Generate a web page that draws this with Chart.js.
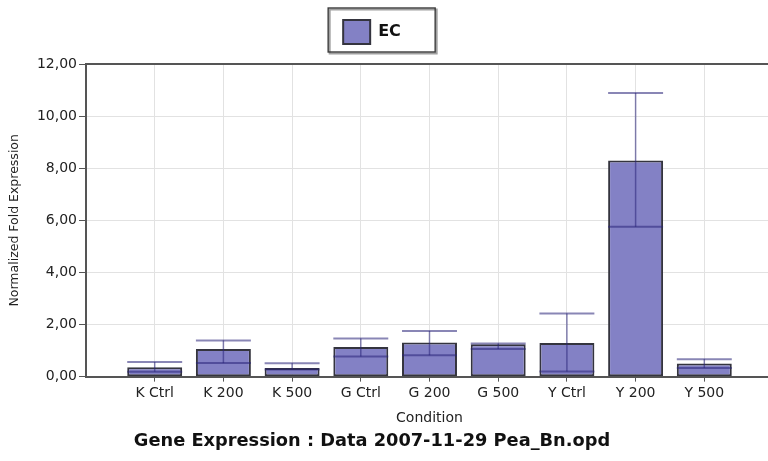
<!DOCTYPE html>
<html>
<head>
<meta charset="utf-8">
<script src="https://cdn.jsdelivr.net/npm/chart.js@4/dist/chart.umd.min.js"></script>
<style>
    html, body { margin: 0; padding: 0; background: #fff; overflow: hidden; }
    #wrap { width: 768px; height: 461px; overflow: hidden; position: relative; }
    #grafico { position: absolute; left: -32px; top: 0; }
</style>
</head>
<body>
<div id="wrap"><canvas id="grafico" width="808" height="461"></canvas></div>
<script>
// Condições e valores
const condicoes = ['K Ctrl', 'K 200', 'K 500', 'G Ctrl', 'G 200', 'G 500', 'Y Ctrl', 'Y 200', 'Y 500'];
const valores = [0.36, 1.06, 0.33, 1.14, 1.31, 1.24, 1.29, 8.30, 0.50];
const erroInferior = [0.19, 0.52, 0.27, 0.77, 0.82, 1.06, 0.20, 5.75, 0.33];
const erroSuperior = [0.56, 1.39, 0.51, 1.46, 1.75, 1.27, 2.42, 10.89, 0.67];
const ticksY = [0, 2, 4, 6, 8, 10, 12];

// Rótulos vazios nas pontas para reproduzir o espaço antes do primeiro grupo
const rotulos = ['', ...condicoes, ''];
const dados = [null, ...valores, null];

const fonte = "'DejaVu Sans', sans-serif";

// Barras de erro desenhadas com a escala y do próprio Chart.js
const pluginErros = {
    id: 'barrasErro',
    afterDatasetsDraw(chart) {
        const ctx = chart.ctx;
        const y = chart.scales.y;
        const meta = chart.getDatasetMeta(0);
        ctx.save();
        ctx.strokeStyle = 'rgba(40, 35, 120, 0.55)';
        meta.data.forEach((barra, i) => {
            const k = i - 1;
            if (k < 0 || k >= valores.length) return;
            const meia = barra.width / 2;
            const yBaixo = y.getPixelForValue(erroInferior[k]);
            const yAlto = y.getPixelForValue(erroSuperior[k]);
            ctx.lineWidth = 1.5;
            ctx.beginPath();
            ctx.moveTo(barra.x, yBaixo);
            ctx.lineTo(barra.x, yAlto);
            ctx.stroke();
            ctx.lineWidth = 2;
            ctx.beginPath();
            ctx.moveTo(barra.x - meia, yBaixo);
            ctx.lineTo(barra.x + meia, yBaixo);
            ctx.moveTo(barra.x - meia, yAlto);
            ctx.lineTo(barra.x + meia, yAlto);
            ctx.stroke();
        });
        ctx.restore();
    }
};

// Moldura com sombra em volta da legenda
const pluginMoldura = {
    id: 'molduraLegenda',
    afterDraw(chart) {
        const ctx = chart.ctx;
        const hb = chart.legend.legendHitBoxes[0];
        if (!hb) return;
        const x = hb.left - 15, yTopo = hb.top - 12, w = 107, h = 44;
        ctx.save();
        ctx.strokeStyle = '#a0a0a0';
        ctx.lineWidth = 2;
        ctx.strokeRect(x + 1.5, yTopo + 1.5, w, h);
        ctx.strokeStyle = '#3a3a3a';
        ctx.lineWidth = 1.4;
        ctx.strokeRect(x, yTopo, w, h);
        ctx.restore();
    }
};

new Chart(document.getElementById('grafico'), {
    type: 'bar',
    data: {
        labels: rotulos,
        datasets: [{
            label: 'EC',
            data: dados,
            backgroundColor: '#8381c5',
            borderColor: '#34343e',
            borderWidth: 2,
            borderSkipped: false,
            categoryPercentage: 1,
            barPercentage: 0.8
        }]
    },
    options: {
        responsive: false,
        animation: false,
        layout: { padding: { top: 1, left: 0, right: 0, bottom: 0 } },
        plugins: {
            legend: {
                position: 'top',
                labels: {
                    boxWidth: 27,
                    boxHeight: 24,
                    padding: 19,
                    color: '#111',
                    font: { family: fonte, size: 16, weight: 'bold' }
                }
            },
            title: {
                display: true,
                position: 'bottom',
                text: 'Gene Expression : Data 2007-11-29 Pea_Bn.opd',
                color: '#111',
                font: { family: fonte, size: 17.8, weight: 'bold' },
                padding: { top: 0, bottom: 9 }
            },
            tooltip: { enabled: false }
        },
        scales: {
            x: {
                offset: false,
                afterFit(scale) { scale.height = 54; },
                grid: {
                    offset: false,
                    color: '#e2e2e2',
                    tickColor: c => (c.index === 0 ? 'rgba(0,0,0,0)' : '#555'),
                    tickLength: 5
                },
                border: { color: '#555', width: 2 },
                ticks: {
                    color: '#222',
                    padding: 3,
                    maxRotation: 0,
                    autoSkip: false,
                    font: { family: fonte, size: 14 }
                },
                title: {
                    display: true,
                    text: 'Condition',
                    color: '#222',
                    font: { family: fonte, size: 14 },
                    padding: { top: 0, bottom: 4 }
                }
            },
            // eixo superior só para a linha de borda do topo
            x2: {
                type: 'category',
                position: 'top',
                offset: false,
                afterFit(scale) { scale.height = 10; },
                grid: { offset: false, drawOnChartArea: false, drawTicks: false },
                border: { display: true, color: '#555', width: 2 },
                ticks: { display: false }
            },
            y: {
                min: ticksY[0],
                max: ticksY[ticksY.length - 1],
                afterFit(scale) { scale.width = 118; },
                afterBuildTicks(scale) { scale.ticks = ticksY.map(v => ({ value: v })); },
                grid: { color: '#e2e2e2', tickColor: '#555', tickLength: 7 },
                border: { color: '#555', width: 2 },
                ticks: {
                    color: '#222',
                    padding: 2,
                    font: { family: fonte, size: 14 },
                    callback: v => v.toFixed(2).replace('.', ',')
                },
                title: {
                    display: true,
                    text: 'Normalized Fold Expression',
                    color: '#222',
                    font: { family: fonte, size: 12.5 },
                    padding: { top: 39, bottom: 0 }
                }
            }
        }
    },
    plugins: [pluginErros, pluginMoldura]
});
</script>
</body>
</html>
